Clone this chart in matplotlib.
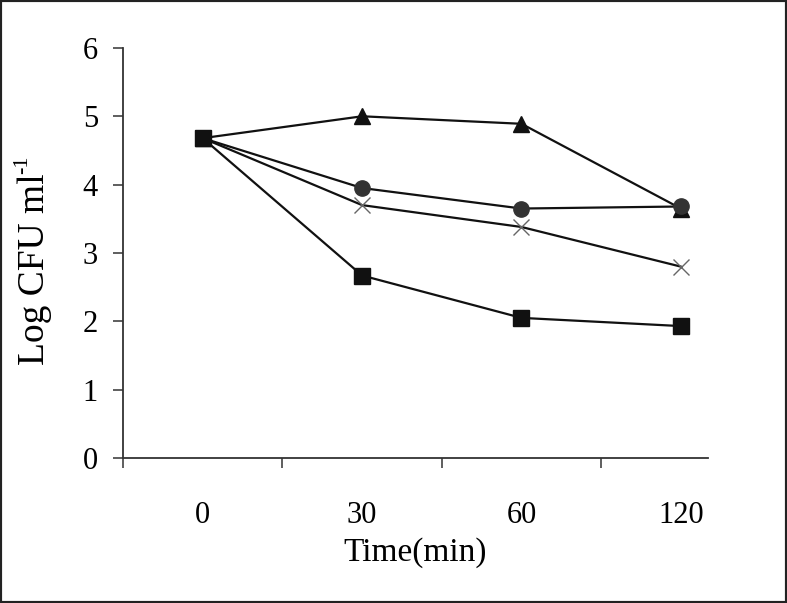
"""Log CFU ml-1 over time, four treatments."""

import matplotlib
matplotlib.use('Agg')
import matplotlib.pyplot as plt
from matplotlib.patches import Rectangle
from matplotlib.ticker import FixedLocator

plt.rcParams['font.family'] = ['Liberation Serif', 'DejaVu Serif']

times = ['0', '30', '60', '120']
triangle_vals = [4.68, 5.0, 4.89, 3.65]
circle_vals = [4.68, 3.95, 3.65, 3.68]
cross_vals = [4.68, 3.7, 3.38, 2.8]
square_vals = [4.68, 2.67, 2.05, 1.93]

W, H = 787, 603
fig = plt.figure(figsize=(W / 100, H / 100), dpi=100)
ax = fig.add_axes([0.1563, 0.2405, 0.7433, 0.68])

pos = list(range(len(times)))
line_kw = dict(color='#111111', lw=1.6)
ax.plot(pos, triangle_vals, marker='^', ms=11, mfc='#111111', mec='#111111', **line_kw)
ax.plot(pos, circle_vals, marker='o', ms=11, mfc='#333333', mec='#333333', **line_kw)
ax.plot(pos, cross_vals, marker='x', ms=12, mew=1.0, mec='#666666', **line_kw)
ax.plot(pos, square_vals, marker='s', ms=11, mfc='#111111', mec='#111111', **line_kw)

ax.set_xlim(-0.5, 3.17)
ax.set_ylim(0, 6)
ax.set_yticks(range(7))
ax.set_xticks(pos)
ax.set_xticklabels(times)
ax.xaxis.set_minor_locator(FixedLocator([-0.5, 0.5, 1.5, 2.5]))

for side in ['top', 'right']:
    ax.spines[side].set_visible(False)
for side in ['left', 'bottom']:
    ax.spines[side].set_color('#333333')
    ax.spines[side].set_linewidth(1.3)

ax.tick_params(axis='y', direction='out', length=7, width=1.1, color='#333333',
               labelsize=22, pad=11)
ax.tick_params(axis='x', which='major', length=0, labelsize=22, pad=31)
ax.tick_params(axis='x', which='minor', direction='out', length=7, width=1.1, color='#333333')

ax.set_xlabel('Time(min)', fontsize=24, labelpad=5)

# y label with a small raised "-1" (hyphen, not math minus)
fig.text(35 / W, 1 - 269 / H, 'Log CFU ml', rotation=90, fontsize=27,
         ha='center', va='center')
fig.text(23 / W, 1 - 165 / H, '-1', rotation=90, fontsize=16,
         ha='center', va='center')

fig.patches.append(Rectangle((0, 0), 1, 1, transform=fig.transFigure, fill=False,
                             lw=3, ec='#222222'))

fig.savefig('out.png', dpi=100)
